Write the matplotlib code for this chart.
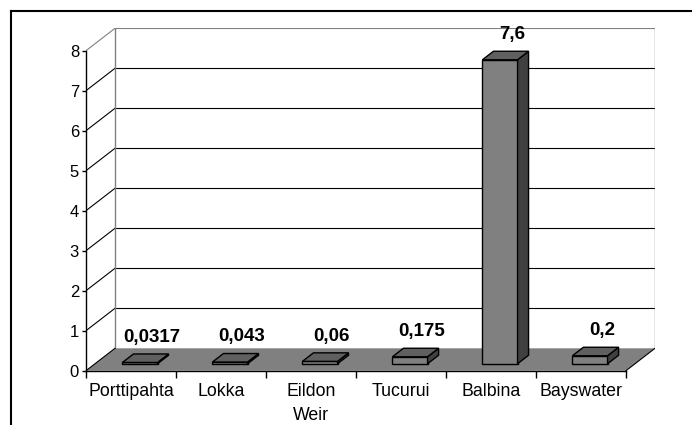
import matplotlib.pyplot as plt
from matplotlib.patches import Polygon
from matplotlib.lines import Line2D

plt.rcParams['font.family'] = ['Liberation Sans', 'DejaVu Sans']

# data
sites = ["Porttipahta", "Lokka", "Eildon\nWeir", "Tucurui", "Balbina", "Bayswater"]
values = [0.0317, 0.043, 0.06, 0.175, 7.6, 0.2]
value_labels = ["0,0317", "0,043", "0,06", "0,175", "7,6", "0,2"]
y_ticks = [0, 1, 2, 3, 4, 5, 6, 7, 8]

# fake 3d look (in data units)
DX = 0.322     # depth offset in category units
DY = 0.56      # depth offset in value units
BAR_W = 0.39
BAR_D = 0.38   # bar depth as fraction of full depth
BAR_Z = 0.31   # depth position of bar front face
YMAX = 8
n = len(sites)

fig = plt.figure(figsize=(6.92, 4.25), dpi=100)
ax = fig.add_axes([86 / 692, 1 - 370.7 / 425, 569 / 692, 342.4 / 425])
ax.set_xlim(0, n + DX)
ax.set_ylim(0, YMAX + DY)
ax.patch.set_visible(False)

# outer chart border (top + left)
fig.add_artist(Line2D([11 / 692, 11 / 692], [0, 1 - 11 / 425], color='black', lw=1.5))
fig.add_artist(Line2D([11 / 692, 1], [1 - 11 / 425, 1 - 11 / 425], color='black', lw=1.5))

# floor
ax.add_patch(Polygon([(0, 0), (n, 0), (n + DX, DY), (DX, DY)],
                     closed=True, facecolor='#808080', edgecolor='none', zorder=1))
ax.plot([n, n + DX], [0, DY], color='black', lw=0.8, zorder=2)
ax.plot([0, DX], [0, DY], color='black', lw=0.8, zorder=2)

# back wall + side wall grid
for k in y_ticks[1:]:
    c = '#808080' if k == YMAX else 'black'
    ax.plot([DX, n + DX], [k + DY, k + DY], color=c, lw=0.8, zorder=1)
    ax.plot([0, DX], [k, k + DY], color=c, lw=0.8, zorder=1)
ax.plot([DX, DX], [DY, YMAX + DY], color='#808080', lw=1, zorder=1)
ax.plot([n + DX, n + DX], [DY, YMAX + DY], color='#808080', lw=1, zorder=1)

# bars
bdx = BAR_D * DX
bdy = BAR_D * DY
y0 = BAR_Z * DY
for i, (v, lab) in enumerate(zip(values, value_labels)):
    x0 = i + 0.5 - BAR_W / 2 + BAR_Z * DX
    x1 = x0 + BAR_W
    top = y0 + v
    front = Polygon([(x0, y0), (x1, y0), (x1, top), (x0, top)],
                    facecolor='#808080', edgecolor='black', lw=1, zorder=3)
    side = Polygon([(x1, y0), (x1 + bdx, y0 + bdy), (x1 + bdx, top + bdy), (x1, top)],
                   facecolor='#404040', edgecolor='black', lw=1, zorder=3)
    cap = Polygon([(x0, top), (x1, top), (x1 + bdx, top + bdy), (x0 + bdx, top + bdy)],
                  facecolor='#606060', edgecolor='black', lw=1, zorder=3)
    for p in (front, side, cap):
        ax.add_patch(p)
    ax.annotate(lab, (x0 + BAR_W / 2 + bdx / 2 + 0.07, top + bdy), xytext=(0, 6),
                textcoords='offset points', ha='center', va='bottom',
                fontsize=13.5, fontweight='bold', zorder=4)

# axes
for s in ['top', 'right']:
    ax.spines[s].set_visible(False)
ax.spines['left'].set_bounds(0, YMAX)
ax.spines['bottom'].set_bounds(0, n)
ax.spines['left'].set_linewidth(1)
ax.spines['bottom'].set_linewidth(1)
ax.spines['left'].set_zorder(5)
ax.spines['bottom'].set_zorder(5)

ax.set_yticks(y_ticks)
ax.set_yticklabels([str(t) for t in y_ticks], fontsize=12)
ax.tick_params(axis='y', direction='out', length=3, pad=2, width=1)

ax.set_xticks(range(n + 1))
ax.set_xticklabels([])
ax.set_xticks([i + 0.5 for i in range(n)], minor=True)
ax.set_xticklabels(sites, minor=True, fontsize=12.8)
ax.tick_params(axis='x', which='major', direction='out', length=5, width=1)
ax.tick_params(axis='x', which='minor', length=0, pad=9)
for t in ax.get_xticklabels(minor=True):
    t.set_linespacing(1.5)

fig.savefig("out.png", dpi=100)
